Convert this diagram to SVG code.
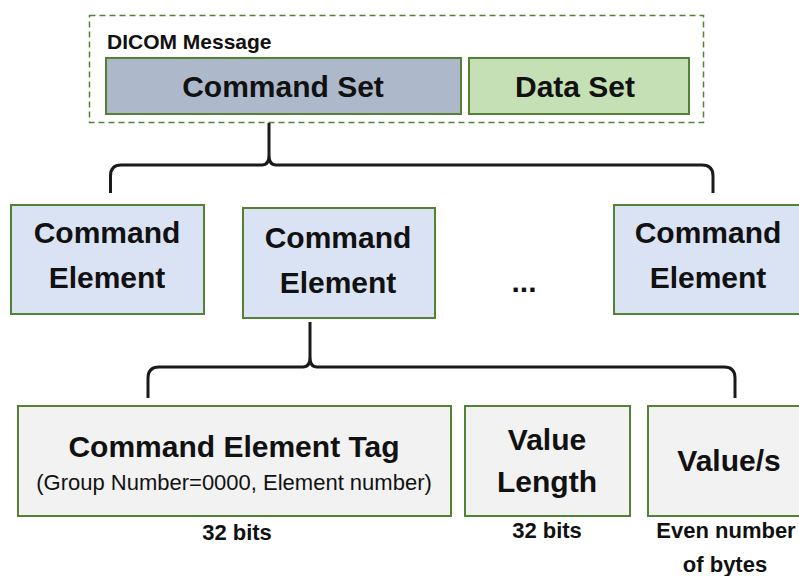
<svg xmlns="http://www.w3.org/2000/svg" width="799" height="576" viewBox="0 0 799 576">
  <style>
    .box { stroke: #548235; stroke-width: 2; }
    .set-cmd { fill: #adb9ca; }
    .set-data { fill: #c5e0b4; }
    .elem { fill: #dae3f3; }
    .part { fill: #f2f2f2; }
    .frame { fill: none; stroke: #548235; stroke-width: 1.5; stroke-dasharray: 6 4; }
    .brace { fill: none; stroke: #1a1a1a; stroke-width: 3; stroke-linejoin: round; }
    text { font-family: "Liberation Sans", Arial, sans-serif; fill: #111; text-anchor: middle; }
    .big { font-size: 30px; font-weight: bold; }
    .cap { font-size: 21px; font-weight: bold; text-anchor: start; }
    .note { font-size: 22px; font-weight: bold; }
    .sub { font-size: 22px; }
  </style>

  <!-- message container -->
  <g id="dicom-message">
    <rect class="frame" x="89.5" y="15.5" width="614" height="107"/>
    <text class="cap" x="107" y="49">DICOM Message</text>
  </g>
  <g id="command-set">
    <rect class="box set-cmd" x="106" y="58" width="355" height="56"/>
    <text class="big" x="283" y="97">Command Set</text>
  </g>
  <g id="data-set">
    <rect class="box set-data" x="469" y="58" width="220" height="56"/>
    <text class="big" x="575" y="97">Data Set</text>
  </g>

  <!-- command elements -->
  <g id="command-element-1">
    <rect class="box elem" x="11" y="205" width="193" height="109"/>
    <text class="big" x="107" y="243">Command</text>
    <text class="big" x="107" y="288">Element</text>
  </g>
  <g id="command-element-2">
    <rect class="box elem" x="243" y="208" width="192" height="110"/>
    <text class="big" x="338" y="248">Command</text>
    <text class="big" x="338" y="293">Element</text>
  </g>
  <g id="ellipsis">
    <text class="big" x="524" y="292">...</text>
  </g>
  <g id="command-element-n">
    <rect class="box elem" x="614" y="205" width="200" height="109"/>
    <text class="big" x="708" y="243">Command</text>
    <text class="big" x="708" y="288">Element</text>
  </g>

  <!-- element parts -->
  <g id="element-tag">
    <rect class="box part" x="18" y="406" width="433" height="110"/>
    <text class="big" x="234" y="457">Command Element Tag</text>
    <text class="sub" x="234" y="490">(Group Number=0000, Element number)</text>
    <text class="note" x="237" y="540">32 bits</text>
  </g>
  <g id="value-length">
    <rect class="box part" x="465" y="406" width="165" height="110"/>
    <text class="big" x="547" y="450">Value</text>
    <text class="big" x="547" y="492">Length</text>
    <text class="note" x="547" y="538">32 bits</text>
  </g>
  <g id="values">
    <rect class="box part" x="648" y="406" width="170" height="110"/>
    <text class="big" x="729" y="471">Value/s</text>
    <text class="note" x="726" y="538">Even number</text>
    <text class="note" x="725" y="572">of bytes</text>
  </g>

  <!-- braces -->
  <g id="connectors">
    <path class="brace" d="M110.5,193 V176 Q110.5,165 121,165 H262 Q269,165 269,155 V123 M269,155 Q269,165 276,165 H702 Q713,165 713,176 V193"/>
    <path class="brace" d="M148,398 V378 Q148,367 159,367 H303 Q310,367 310,357 V322 M310,357 Q310,367 317,367 H724 Q735,367 735,378 V398"/>
  </g>
</svg>
